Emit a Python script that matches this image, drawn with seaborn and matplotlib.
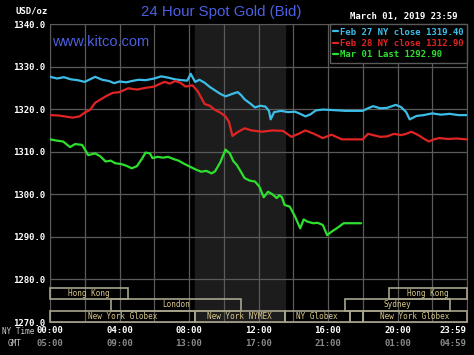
import pandas as pd
import matplotlib.pyplot as plt
import matplotlib.patches as patches
import seaborn as sns

# hours since 00:00 NY time and bid prices
feb27_hours = [0, 0.4, 0.8, 1.2, 1.6, 2.0, 2.3, 2.6, 3.0, 3.4, 3.7, 4.0, 4.4, 4.7, 5.1, 5.5, 6.0, 6.4,
               6.8, 7.2, 7.6, 7.9, 8.1, 8.35, 8.6, 8.9, 9.2, 9.5, 9.8, 10.1, 10.5, 10.8, 11.0, 11.2,
               11.5, 11.8, 12.1, 12.4, 12.6, 12.7, 12.9, 13.3, 13.7, 14.1, 14.4, 14.7, 15.0, 15.3,
               15.7, 16.2, 16.6, 17.0, 17.5, 18.0, 18.3, 18.6, 19.0, 19.4, 19.9, 20.2, 20.5, 20.7,
               21.1, 21.5, 22.0, 22.5, 23.0, 23.5, 23.98]
feb27_price = [1327.6, 1327.2, 1327.5, 1327.0, 1326.8, 1326.4, 1327.0, 1327.6, 1326.9, 1326.6, 1326.1,
               1326.5, 1326.3, 1326.6, 1326.9, 1326.8, 1327.2, 1327.7, 1327.4, 1327.0, 1326.8, 1326.7,
               1328.3, 1326.4, 1326.9, 1326.2, 1325.2, 1324.4, 1323.6, 1323.0, 1323.6, 1324.0, 1323.3,
               1322.3, 1321.4, 1320.4, 1320.8, 1320.6, 1319.6, 1317.6, 1319.3, 1319.6, 1319.3, 1319.4,
               1318.9, 1318.3, 1318.8, 1319.7, 1319.9, 1319.8, 1319.7, 1319.6, 1319.6, 1319.6, 1320.2,
               1320.7, 1320.2, 1320.3, 1321.0, 1320.5, 1319.3, 1317.6, 1318.4, 1318.6, 1319.0, 1318.7,
               1318.9, 1318.6, 1318.6]

feb28_hours = [0, 0.5, 1.0, 1.3, 1.7, 2.0, 2.3, 2.6, 3.0, 3.3, 3.6, 4.0, 4.5, 5.0, 5.5, 6.0, 6.3, 6.6,
               6.9, 7.2, 7.5, 7.8, 8.2, 8.5, 8.9, 9.2, 9.5, 9.8, 10.1, 10.3, 10.5, 10.8, 11.2, 11.6,
               12.2, 12.8, 13.4, 13.9, 14.3, 14.7, 15.2, 15.7, 16.2, 16.8, 17.4, 18.0, 18.3, 18.6,
               19.0, 19.4, 19.8, 20.2, 20.5, 20.8, 21.2, 21.5, 21.8, 22.1, 22.4, 22.9, 23.4, 23.98]
feb28_price = [1318.6, 1318.5, 1318.2, 1318.0, 1318.3, 1319.2, 1319.8, 1321.5, 1322.5, 1323.2, 1323.8,
               1324.0, 1324.9, 1324.6, 1325.0, 1325.3, 1325.9, 1326.4, 1326.0, 1326.6, 1326.2, 1325.3,
               1325.6, 1324.2, 1321.2, 1320.8, 1319.8, 1319.2, 1318.3, 1317.0, 1313.7, 1314.6, 1315.5,
               1315.0, 1314.7, 1315.0, 1314.9, 1313.5, 1314.2, 1315.0, 1314.2, 1313.2, 1314.0, 1312.9,
               1312.9, 1312.9, 1314.2, 1313.9, 1313.5, 1313.6, 1314.2, 1313.9, 1314.2, 1314.7, 1313.9,
               1313.1, 1312.4, 1312.9, 1313.2, 1313.0, 1313.1, 1312.9]

mar01_hours = [0, 0.4, 0.75, 1.15, 1.45, 1.85, 2.2, 2.6, 2.9, 3.2, 3.5, 3.75, 4.1, 4.4, 4.7, 5.0, 5.3,
               5.5, 5.75, 5.9, 6.2, 6.5, 6.8, 7.1, 7.4, 7.7, 8.05, 8.4, 8.7, 9.0, 9.3, 9.5, 9.8, 10.1,
               10.35, 10.55, 10.75, 11.0, 11.2, 11.5, 11.8, 12.05, 12.3, 12.55, 12.8, 13.05, 13.2,
               13.35, 13.5, 13.8, 14.1, 14.4, 14.6, 14.8, 15.15, 15.4, 15.7, 15.95, 16.2, 16.5, 16.9,
               17.4, 17.9]
mar01_price = [1312.9, 1312.6, 1312.4, 1311.1, 1311.8, 1311.6, 1309.2, 1309.6, 1308.9, 1307.7, 1307.9,
               1307.3, 1307.1, 1306.7, 1306.1, 1306.6, 1308.4, 1309.8, 1309.6, 1308.5, 1308.8, 1308.6,
               1308.8, 1308.3, 1307.9, 1307.2, 1306.5, 1305.8, 1305.3, 1305.5, 1304.9, 1305.4, 1307.5,
               1310.5, 1309.6, 1307.8, 1306.9, 1305.2, 1303.8, 1303.2, 1303.0, 1301.8, 1299.3, 1300.6,
               1300.0, 1299.1, 1299.8, 1299.3, 1297.5, 1297.1, 1294.8, 1292.0, 1294.1, 1293.6, 1293.2,
               1293.3, 1292.8, 1290.4, 1291.2, 1292.0, 1293.2, 1293.2, 1293.2]

series_labels = ['Feb 27 NY close 1319.40', 'Feb 28 NY close 1312.90', 'Mar 01 Last 1292.90']
series_colors = ['#3cbde8', '#e02424', '#2ee02e']

# trading sessions shown at the bottom of the chart (row 0 is the top row)
session_names = ['Hong Kong', 'London', 'New York Globex', 'New York NYMEX', 'NY Globex', '',
                 'Sydney', 'Hong Kong', 'New York Globex']
session_start = [0, 3.5, 0, 8.33, 13.5, 17.25, 17.0, 19.5, 18.0]
session_end = [4.5, 11.0, 8.33, 13.5, 17.25, 18.0, 23.0, 24.0, 24.0]
session_row = [0, 1, 2, 2, 2, 2, 1, 0, 2]

ny_ticks = [0, 4, 8, 12, 16, 20, 23.983]
ny_labels = ['00:00', '04:00', '08:00', '12:00', '16:00', '20:00', '23:59']
gmt_labels = ['05:00', '09:00', '13:00', '17:00', '21:00', '01:00', '04:59']
y_ticks = [1270, 1280, 1290, 1300, 1310, 1320, 1330, 1340]

df = pd.concat([
    pd.DataFrame({'hour': feb27_hours, 'price': feb27_price, 'series': series_labels[0]}),
    pd.DataFrame({'hour': feb28_hours, 'price': feb28_price, 'series': series_labels[1]}),
    pd.DataFrame({'hour': mar01_hours, 'price': mar01_price, 'series': series_labels[2]}),
])

sns.set_style('dark')
plt.rcParams['font.family'] = ['DejaVu Sans Mono', 'DejaVu Sans']

fig = plt.figure(figsize=(4.74, 3.55), dpi=100, facecolor='black')
ax = fig.add_axes([50 / 474, 1 - 322 / 355, 417 / 474, 298 / 355])
ax.set_facecolor('black')
ax.grid(False)

# NYMEX pit hours shading
ax.axvspan(8.33, 13.5, color='#1c1c1c', zorder=0)

grid_col = '#5a5a5a'
for h in range(0, 25, 2):
    ax.axvline(h, color=grid_col, lw=0.9, zorder=1)
for p in y_ticks:
    ax.axhline(p, color=grid_col, lw=0.9, zorder=1)

sns.lineplot(data=df, x='hour', y='price', hue='series', palette=series_colors,
             estimator=None, sort=False, lw=1.6, ax=ax, zorder=3)

# session boxes
row_top = [1278.0, 1275.3, 1272.6]
row_h = 2.6
box_col = '#a8a48c'
for name, s, e, r in zip(session_names, session_start, session_end, session_row):
    y0 = row_top[r] - row_h
    ax.add_patch(patches.Rectangle((s, y0), e - s, row_h, fill=False, edgecolor=box_col,
                                   lw=1.2, zorder=4, clip_on=False))
    ax.text((s + e) / 2, y0 + row_h / 2, name, color='#d9c98a', fontsize=5.5,
            ha='center', va='center', zorder=5, family='DejaVu Sans Mono')

ax.set_xlim(0, 24)
ax.set_ylim(1270, 1340)
ax.set_yticks(y_ticks)
ax.set_yticklabels(['%.1f' % v for v in y_ticks], color='white', fontsize=6.5, fontweight='bold')
ax.set_xticks(ny_ticks)
ax.set_xticklabels(ny_labels, color='white', fontsize=6.5, fontweight='bold')
ax.get_xticklabels()[-1].set_ha('right')
ax.tick_params(length=0, pad=3)
ax.set_xlabel('')
ax.set_ylabel('')
for sp in ax.spines.values():
    sp.set_color(grid_col)

# GMT row under the NY times
for i, (h, lab) in enumerate(zip(ny_ticks, gmt_labels)):
    ax.annotate(lab, xy=(h, 0), xycoords=('data', 'axes fraction'), xytext=(0, -15.5),
                textcoords='offset points', ha='right' if i == len(ny_ticks) - 1 else 'center',
                va='center', color='#8a8a8a', fontsize=6.5, fontweight='bold',
                annotation_clip=False)

leg = ax.legend(loc='upper right', borderaxespad=0, frameon=True, fancybox=False,
                handlelength=0.5, handletextpad=0.2, labelcolor='linecolor',
                prop={'family': 'DejaVu Sans Mono', 'weight': 'bold', 'size': 6.5},
                borderpad=0.4, labelspacing=0.25)
leg.get_frame().set_facecolor('black')
leg.get_frame().set_edgecolor(grid_col)
leg.get_frame().set_alpha(1)

fig.text(221 / 474, 1 - 12 / 355, '24 Hour Spot Gold (Bid)', color='#4b5fe3', fontsize=10.8,
         ha='center', va='center', family='Liberation Sans')
fig.text(52 / 474, 1 - 42 / 355, 'www.kitco.com', color='#4b5fe3', fontsize=10.5,
         ha='left', va='center', family='Liberation Sans')
fig.text(458 / 474, 1 - 17 / 355, 'March 01, 2019 23:59', color='white', fontsize=6.5,
         fontweight='bold', ha='right', va='center')
fig.text(15 / 474, 1 - 11 / 355, 'USD/oz', color='white', fontsize=6.5, fontweight='bold',
         ha='left', va='center')
fig.text(2 / 474, 1 - 331 / 355, 'NY Time', color='#cccccc', fontsize=5.5, ha='left', va='center')
fig.text(8 / 474, 1 - 344 / 355, 'GMT', color='#cccccc', fontsize=5.5, ha='left', va='center')

plt.savefig('out.png', dpi=100, facecolor='black')
